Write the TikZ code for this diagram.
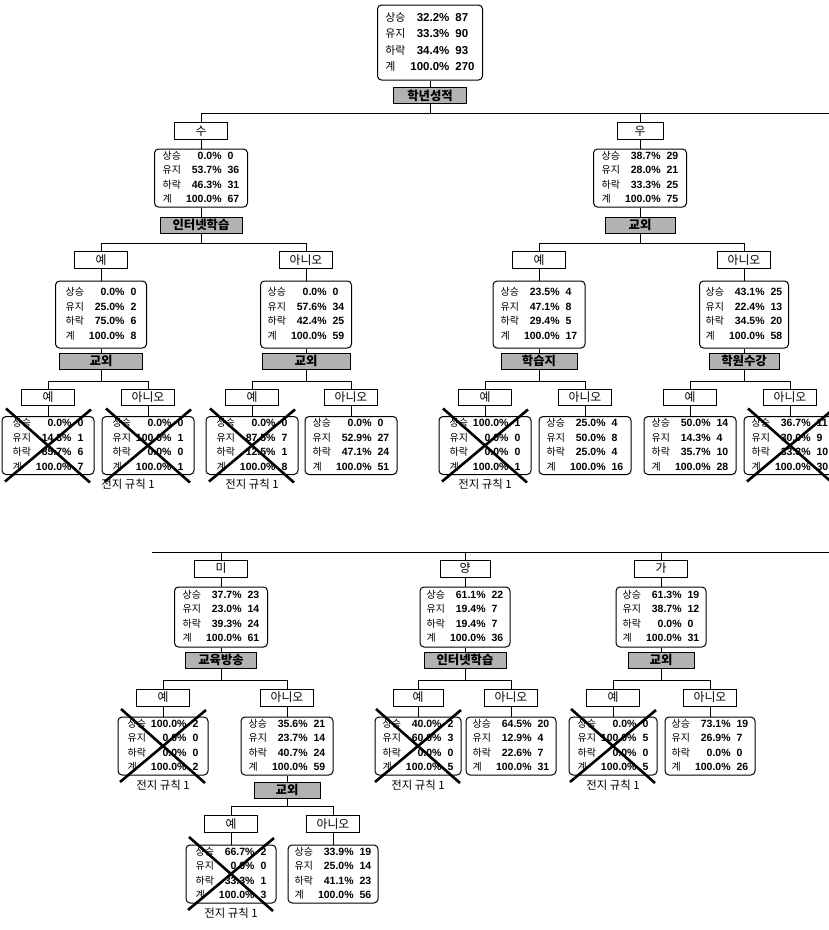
\documentclass[tikz,border=0pt]{standalone}
\usepackage{fontspec}
\setmainfont{Liberation Sans}
\newfontfamily\kr[Scale=0.95]{Noto Sans CJK KR}
\usetikzlibrary{calc}
\newcommand\srows[8]{\begin{tabular}{@{}l@{\hspace{5pt}}r@{\hspace{6pt}}l@{}}{\kr 상승}&\textbf{#1\%}&\textbf{#2}\\{\kr 유지}&\textbf{#3\%}&\textbf{#4}\\{\kr 하락}&\textbf{#5\%}&\textbf{#6}\\{\kr 계}&\textbf{#7\%}&\textbf{#8}\end{tabular}}
\newcommand\xout[1]{\draw[xmark] ($(#1.center)+(-42,-37)$) -- ($(#1.center)+(42,37)$);\draw[xmark] ($(#1.center)+(43,-36)$) -- ($(#1.center)+(-43,36)$);}
\newcommand\branch[4]{\draw[conn] (#1.south) -- (#1.south |- #4);\draw[conn] (#2.north) |- (#3.north |- #4) -- (#3.north);}
\newcommand\link[2]{\draw[conn] (#1.south) -- (#2.north);}
\tikzset{
  stat/.style={draw, rounded corners=4pt, line width=1pt, inner sep=0pt, align=center, minimum width=92pt, minimum height=58pt, font=\fontsize{10.5}{14.5}\selectfont},
  lab/.style={draw, line width=1pt, inner sep=0pt, minimum width=53pt, minimum height=17pt, font=\kr\fontsize{12.5}{13}\selectfont},
  spl/.style={draw, line width=0.8pt, fill=gray!60, inner sep=0pt, minimum height=16pt, font=\kr\bfseries\fontsize{13}{14}\selectfont},
  conn/.style={line width=1pt},
  xmark/.style={line width=2.6pt},
  rulelab/.style={inner sep=0pt, font=\kr\fontsize{12}{13}\selectfont}
}
\begin{document}
\begin{tikzpicture}[x=1pt,y=-1pt]
\clip (0,0) rectangle (829,930);
\fill[white] (0,0) rectangle (829,930);
% ---------- top half ----------
\node[stat, minimum width=105pt, minimum height=75pt, font=\fontsize{11.5}{16.5}\selectfont] (R0) at (430,42.5) {\srows{32.2}{87}{33.3}{90}{34.4}{93}{100.0}{270}};
\node[spl, minimum width=73pt] (S0) at (430,95.5) {학년성적};
\coordinate (b0) at (0,113);
\coordinate (eR0) at (829,113);
\node[lab] (L1) at (201,131) {수};
\node[lab, minimum width=46pt] (L2) at (640,131) {우};
\node[stat, minimum width=93pt] (N1) at (201,178) {\srows{0.0}{0}{53.7}{36}{46.3}{31}{100.0}{67}};
\node[stat, minimum width=93pt] (N2) at (640,178) {\srows{38.7}{29}{28.0}{21}{33.3}{25}{100.0}{75}};
\node[spl, minimum width=82pt] (S1) at (201,225) {인터넷학습};
\node[spl, minimum width=70pt] (S2) at (640,225) {교외};
\coordinate (b1) at (0,243);
\node[lab] (L11) at (101,260) {예};
\node[lab] (L12) at (306,260) {아니오};
\node[lab] (L21) at (539,260) {예};
\node[lab] (L22) at (744,260) {아니오};
\node[stat, minimum width=91pt, minimum height=67pt] (N11) at (101,314.5) {\srows{0.0}{0}{25.0}{2}{75.0}{6}{100.0}{8}};
\node[stat, minimum width=91pt, minimum height=67pt] (N12) at (306,314.5) {\srows{0.0}{0}{57.6}{34}{42.4}{25}{100.0}{59}};
\node[stat, minimum width=92pt, minimum height=67pt] (N21) at (539,314.5) {\srows{23.5}{4}{47.1}{8}{29.4}{5}{100.0}{17}};
\node[stat, minimum width=89pt, minimum height=67pt] (N22) at (744,314.5) {\srows{43.1}{25}{22.4}{13}{34.5}{20}{100.0}{58}};
\node[spl, minimum width=83pt] (S11) at (101,361) {교외};
\node[spl, minimum width=88pt] (S12) at (306,361) {교외};
\node[spl, minimum width=76pt] (S21) at (539,361) {학습지};
\node[spl, minimum width=70pt] (S22) at (744,361) {학원수강};
\coordinate (b2) at (0,381);
\node[lab, minimum height=16pt] (La1) at (48,397) {예};
\node[lab, minimum height=16pt] (La2) at (148,397) {아니오};
\node[lab, minimum height=16pt] (Lb1) at (252,397) {예};
\node[lab, minimum height=16pt] (Lb2) at (351,397) {아니오};
\node[lab, minimum height=16pt] (Lc1) at (485,397) {예};
\node[lab, minimum height=16pt] (Lc2) at (585,397) {아니오};
\node[lab, minimum height=16pt] (Ld1) at (690,397) {예};
\node[lab, minimum height=16pt] (Ld2) at (790,397) {아니오};
\node[stat, minimum height=57pt] (Na1) at (48,445.5) {\srows{0.0}{0}{14.3}{1}{85.7}{6}{100.0}{7}};
\node[stat, minimum height=57pt] (Na2) at (148,445.5) {\srows{0.0}{0}{100.0}{1}{0.0}{0}{100.0}{1}};
\node[stat, minimum height=57pt] (Nb1) at (252,445.5) {\srows{0.0}{0}{87.5}{7}{12.5}{1}{100.0}{8}};
\node[stat, minimum height=57pt] (Nb2) at (351,445.5) {\srows{0.0}{0}{52.9}{27}{47.1}{24}{100.0}{51}};
\node[stat, minimum height=57pt] (Nc1) at (485,445.5) {\srows{100.0}{1}{0.0}{0}{0.0}{0}{100.0}{1}};
\node[stat, minimum height=57pt] (Nc2) at (585,445.5) {\srows{25.0}{4}{50.0}{8}{25.0}{4}{100.0}{16}};
\node[stat, minimum height=57pt] (Nd1) at (690,445.5) {\srows{50.0}{14}{14.3}{4}{35.7}{10}{100.0}{28}};
\node[stat, minimum height=57pt] (Nd2) at (790,445.5) {\srows{36.7}{11}{30.0}{9}{33.3}{10}{100.0}{30}};
\node[rulelab] (Ra) at (128,484) {전지 규칙 1};
\node[rulelab] (Rb) at (252,484) {전지 규칙 1};
\node[rulelab] (Rc) at (485,484) {전지 규칙 1};
% connectors top
\link{R0}{S0}
\draw[conn] (S0.south) -- (S0.south |- b0);
\draw[conn] (L1.north) |- (eR0);
\draw[conn] (L2.north) -- (L2.north |- b0);
\link{L1}{N1}\link{N1}{S1}\link{L2}{N2}\link{N2}{S2}
\branch{S1}{L11}{L12}{b1}
\branch{S2}{L21}{L22}{b1}
\link{L11}{N11}\link{N11}{S11}\link{L12}{N12}\link{N12}{S12}
\link{L21}{N21}\link{N21}{S21}\link{L22}{N22}\link{N22}{S22}
\branch{S11}{La1}{La2}{b2}
\branch{S12}{Lb1}{Lb2}{b2}
\branch{S21}{Lc1}{Lc2}{b2}
\branch{S22}{Ld1}{Ld2}{b2}
\link{La1}{Na1}\link{La2}{Na2}\link{Lb1}{Nb1}\link{Lb2}{Nb2}
\link{Lc1}{Nc1}\link{Lc2}{Nc2}\link{Ld1}{Nd1}\link{Ld2}{Nd2}
\xout{Na1}\xout{Na2}\xout{Nb1}\xout{Nc1}\xout{Nd2}
% ---------- bottom half ----------
\coordinate (eL3) at (152,552);
\coordinate (eR3) at (829,552);
\node[lab] (L3) at (221,568.5) {미};
\node[lab, minimum width=50pt] (L4) at (465,568.5) {양};
\node[lab] (L5) at (661,568.5) {가};
\node[stat, minimum width=93pt, minimum height=60pt] (N3) at (221,617) {\srows{37.7}{23}{23.0}{14}{39.3}{24}{100.0}{61}};
\node[stat, minimum width=90pt, minimum height=60pt] (N4) at (465,617) {\srows{61.1}{22}{19.4}{7}{19.4}{7}{100.0}{36}};
\node[stat, minimum width=90pt, minimum height=60pt] (N5) at (661,617) {\srows{61.3}{19}{38.7}{12}{0.0}{0}{100.0}{31}};
\node[spl, minimum width=71pt] (S3) at (221,660) {교육방송};
\node[spl, minimum width=82pt] (S4) at (465,660) {인터넷학습};
\node[spl, minimum width=66pt] (S5) at (661,660) {교외};
\coordinate (b4) at (0,680);
\node[lab] (L31) at (163,697.5) {예};
\node[lab] (L32) at (287,697.5) {아니오};
\node[lab, minimum width=50pt] (L41) at (418,697.5) {예};
\node[lab] (L42) at (511,697.5) {아니오};
\node[lab] (L51) at (613,697.5) {예};
\node[lab] (L52) at (710,697.5) {아니오};
\node[stat, minimum width=90pt] (N31) at (163,746) {\srows{100.0}{2}{0.0}{0}{0.0}{0}{100.0}{2}};
\node[stat, minimum width=92pt] (N32) at (287,746) {\srows{35.6}{21}{23.7}{14}{40.7}{24}{100.0}{59}};
\node[stat, minimum width=86pt] (N41) at (418,746) {\srows{40.0}{2}{60.0}{3}{0.0}{0}{100.0}{5}};
\node[stat, minimum width=90pt] (N42) at (511,746) {\srows{64.5}{20}{12.9}{4}{22.6}{7}{100.0}{31}};
\node[stat, minimum width=88pt] (N51) at (613,746) {\srows{0.0}{0}{100.0}{5}{0.0}{0}{100.0}{5}};
\node[stat, minimum width=90pt] (N52) at (710,746) {\srows{73.1}{19}{26.9}{7}{0.0}{0}{100.0}{26}};
\node[rulelab] (R31) at (163,785) {전지 규칙 1};
\node[rulelab] (R41) at (418,785) {전지 규칙 1};
\node[rulelab] (R51) at (613,785) {전지 규칙 1};
\node[spl, minimum width=66pt] (S32) at (287,790) {교외};
\coordinate (b5) at (0,806);
\node[lab] (L321) at (231,824) {예};
\node[lab] (L322) at (333,824) {아니오};
\node[stat, minimum width=90pt] (N321) at (231,874) {\srows{66.7}{2}{0.0}{0}{33.3}{1}{100.0}{3}};
\node[stat, minimum width=90pt] (N322) at (333,874) {\srows{33.9}{19}{25.0}{14}{41.1}{23}{100.0}{56}};
\node[rulelab] (R321) at (231,913) {전지 규칙 1};
% connectors bottom
\draw[conn] (eL3) -- (eR3);
\draw[conn] (L3.north) -- (L3.north |- eL3);
\draw[conn] (L4.north) -- (L4.north |- eL3);
\draw[conn] (L5.north) -- (L5.north |- eL3);
\link{L3}{N3}\link{N3}{S3}\link{L4}{N4}\link{N4}{S4}\link{L5}{N5}\link{N5}{S5}
\branch{S3}{L31}{L32}{b4}
\branch{S4}{L41}{L42}{b4}
\branch{S5}{L51}{L52}{b4}
\link{L31}{N31}\link{L32}{N32}\link{L41}{N41}\link{L42}{N42}\link{L51}{N51}\link{L52}{N52}
\link{N32}{S32}
\branch{S32}{L321}{L322}{b5}
\link{L321}{N321}\link{L322}{N322}
\xout{N31}\xout{N41}\xout{N51}\xout{N321}
\end{tikzpicture}
\end{document}
